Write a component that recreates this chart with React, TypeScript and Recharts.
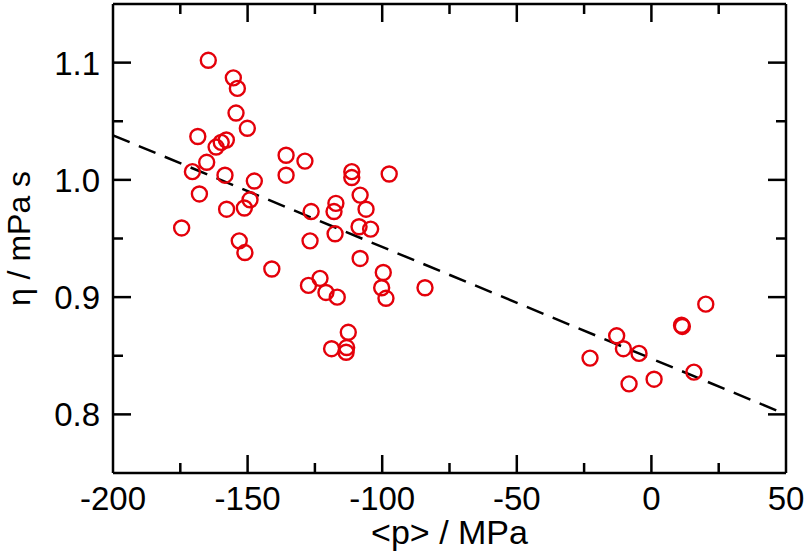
import React from 'react';
import {
  ScatterChart,
  Scatter,
  XAxis,
  YAxis,
  ReferenceLine,
} from 'recharts';

// mean pressure <p> (MPa) and viscosity eta (mPa s)
const pressure = [
  -164.6, -155.3, -153.8, -154.3, -150.1, -168.5, -161.7, -159.8, -157.9, -165.2, -170.5,
  -158.4, -167.9, -147.5, -149.1, -151.2, -157.8, -174.5, -153.1, -151.0, -141.0,
  -135.7, -135.7, -128.7, -126.4, -126.8, -117.2, -117.9, -117.5, -111.3, -111.3,
  -108.2, -106.0, -108.6, -104.3, -97.4, -108.2, -99.6, -100.2, -98.6,
  -127.4, -123.1, -120.9, -116.7, -112.6, -118.8, -113.2, -113.4, -84.1,
  -22.8, -12.9, -10.4, -4.6, -8.3, 1.0, 11.2, 11.5, 20.2, 15.8,
];
const viscosity = [
  1.102, 1.087, 1.078, 1.057, 1.044, 1.037, 1.028, 1.032, 1.034, 1.015, 1.007,
  1.004, 0.988, 0.999, 0.983, 0.976, 0.975, 0.959, 0.948, 0.938, 0.924,
  1.021, 1.004, 1.016, 0.973, 0.948, 0.98, 0.973, 0.954, 1.007, 1.002,
  0.987, 0.975, 0.96, 0.958, 1.005, 0.933, 0.921, 0.908, 0.899,
  0.91, 0.916, 0.904, 0.9, 0.87, 0.856, 0.857, 0.853, 0.908,
  0.848, 0.867, 0.856, 0.852, 0.826, 0.83, 0.876, 0.875, 0.894, 0.836,
];

// linear fit (dashed)
const fitX = [-200, 50];
const fitY = [1.038, 0.8];

const xDomain = [-200, 50];
const yDomain = [0.75, 1.15];
const xMajor = [-200, -150, -100, -50, 0, 50];
const xMinor = [-175, -125, -75, -25, 25];
const yMajor = [0.8, 0.9, 1.0, 1.1];
const yMinor = [0.85, 0.95, 1.05];

const data = pressure.map((p, i) => ({ p, eta: viscosity[i] }));

const FONT = '"Liberation Sans", Arial, Helvetica, sans-serif';

// plot box in pixels, used only to turn tick lengths into data units
const PLOT_W = 673;
const PLOT_H = 469;
const tickLenX = (px: number) => (px * (xDomain[1] - xDomain[0])) / PLOT_W;
const tickLenY = (px: number) => (px * (yDomain[1] - yDomain[0])) / PLOT_H;

const BottomTick = (props: any) => {
  const { x, y, payload } = props;
  return (
    <text x={x} y={y + 37} textAnchor="middle" fontSize={33} fontFamily={FONT} fill="#000">
      {payload.value}
    </text>
  );
};

const LeftTick = (props: any) => {
  const { x, y, payload } = props;
  return (
    <text x={x - 13} y={y + 12} textAnchor="end" fontSize={33} fontFamily={FONT} fill="#000">
      {payload.value.toFixed(1)}
    </text>
  );
};

const Ring = (props: any) => (
  <circle cx={props.cx} cy={props.cy} r={7.5} fill="none" stroke="#e4000a" strokeWidth={2.4} />
);

const axisLine = { stroke: '#000', strokeWidth: 2.5 };
const tickStyle = { stroke: '#000', strokeWidth: 2.5 };

// inward ticks on all four sides (axis tick lines didn't show up, so drawn as segments)
const tickMarks = () => {
  const out: React.ReactNode[] = [];
  const xs = [...xMajor.map((v) => [v, 18]), ...xMinor.map((v) => [v, 10])].filter(
    ([v]) => v > xDomain[0] && v < xDomain[1]
  );
  const ys = [...yMajor.map((v) => [v, 18]), ...yMinor.map((v) => [v, 10])];
  xs.forEach(([v, len]) => {
    out.push(
      <ReferenceLine key={`xb${v}`} xAxisId="x" yAxisId="y" {...tickStyle}
        segment={[{ x: v, y: yDomain[0] }, { x: v, y: yDomain[0] + tickLenY(len) }]} />,
      <ReferenceLine key={`xt${v}`} xAxisId="x" yAxisId="y" {...tickStyle}
        segment={[{ x: v, y: yDomain[1] - tickLenY(len) }, { x: v, y: yDomain[1] }]} />
    );
  });
  ys.forEach(([v, len]) => {
    out.push(
      <ReferenceLine key={`yl${v}`} xAxisId="x" yAxisId="y" {...tickStyle}
        segment={[{ x: xDomain[0], y: v }, { x: xDomain[0] + tickLenX(len), y: v }]} />,
      <ReferenceLine key={`yr${v}`} xAxisId="x" yAxisId="y" {...tickStyle}
        segment={[{ x: xDomain[1] - tickLenX(len), y: v }, { x: xDomain[1], y: v }]} />
    );
  });
  return out;
};

export default function App() {
  return (
    <div style={{ position: 'absolute', left: 0, top: 0, background: '#fff' }}>
      <ScatterChart width={807} height={560} margin={{ top: 4, right: 21, bottom: 0, left: 0 }}>
        <XAxis
          xAxisId="x"
          dataKey="p"
          type="number"
          domain={xDomain}
          ticks={xMajor}
          interval={0}
          height={87}
          tickSize={0}
          tickMargin={0}
          tickLine={false}
          axisLine={axisLine}
          tick={<BottomTick />}
          label={({ viewBox }: any) => (
            <text
              x={viewBox.x + viewBox.width / 2}
              y={viewBox.y + 71}
              textAnchor="middle"
              fontSize={34}
              fontFamily={FONT}
              fill="#000"
            >
              {'<p> / MPa'}
            </text>
          )}
        />
        <YAxis
          yAxisId="y"
          dataKey="eta"
          type="number"
          domain={yDomain}
          ticks={yMajor}
          interval={0}
          width={113}
          tickSize={0}
          tickMargin={0}
          tickLine={false}
          axisLine={axisLine}
          tick={<LeftTick />}
          label={({ viewBox }: any) => {
            const cx = viewBox.x + 30;
            const cy = viewBox.y + viewBox.height / 2;
            return (
              <text
                x={cx}
                y={cy}
                transform={`rotate(-90, ${cx}, ${cy})`}
                textAnchor="middle"
                fontSize={32}
                fontFamily={FONT}
                fill="#000"
              >
                η / mPa s
              </text>
            );
          }}
        />
        {/* top and right sides of the frame */}
        <ReferenceLine xAxisId="x" yAxisId="y" y={yDomain[1]} {...tickStyle} />
        <ReferenceLine xAxisId="x" yAxisId="y" x={xDomain[1]} {...tickStyle} />
        {tickMarks()}
        <ReferenceLine
          xAxisId="x"
          yAxisId="y"
          segment={[
            { x: fitX[0], y: fitY[0] },
            { x: fitX[1], y: fitY[1] },
          ]}
          stroke="#000"
          strokeWidth={2.5}
          strokeDasharray="18 10"
        />
        <Scatter
          xAxisId="x"
          yAxisId="y"
          data={data}
          shape={<Ring />}
          isAnimationActive={false}
        />
      </ScatterChart>
    </div>
  );
}
